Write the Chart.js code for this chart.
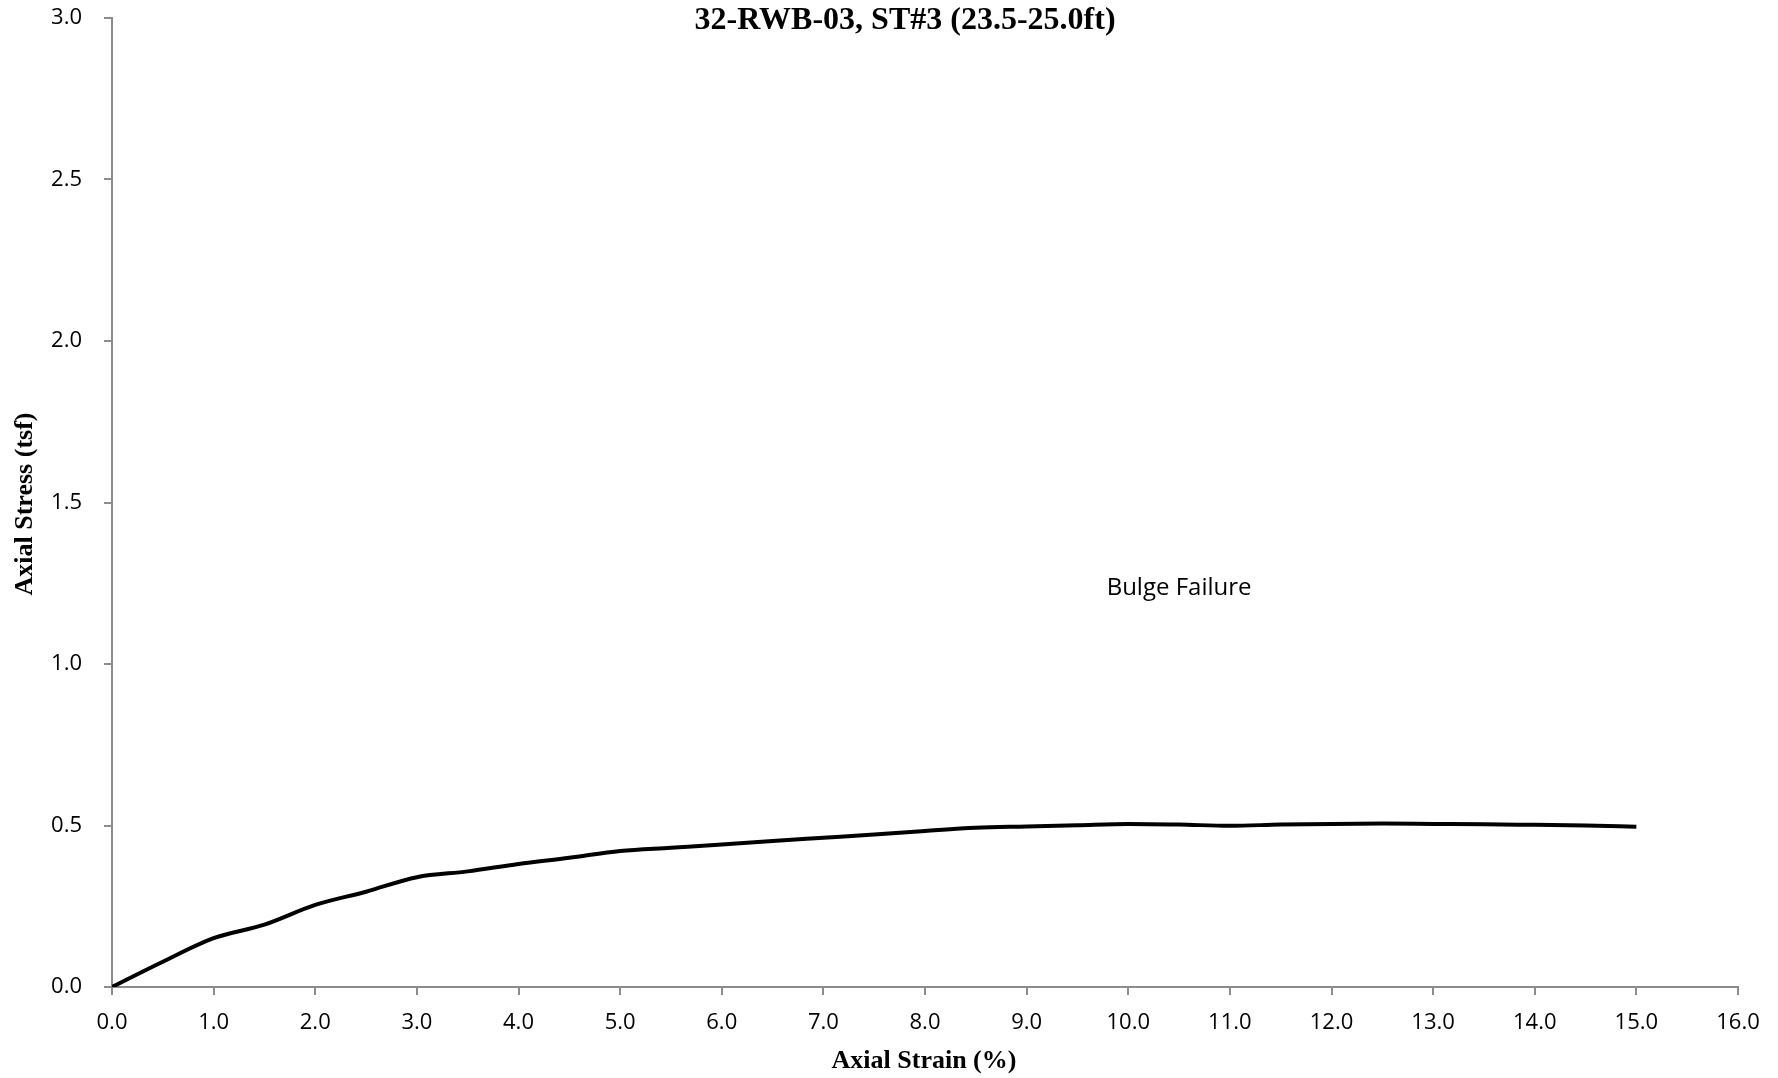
<!DOCTYPE html>
<html>
<head>
<meta charset="utf-8">
<script src="https://cdn.jsdelivr.net/npm/chart.js@4.4.1/dist/chart.umd.min.js"></script>
<style>
  html, body { margin: 0; padding: 0; background: #fff; }
  #wrap { width: 1778px; height: 1078px; }
</style>
</head>
<body>
<div id="wrap"><canvas id="stressChart" width="1778" height="1078"></canvas></div>
<script>
// Axial strain (%) and axial stress (tsf)
const strain = [0, 0.5, 1, 1.5, 2, 2.5, 3, 3.5, 4, 4.5, 5, 5.5, 6, 6.5, 7, 7.5, 8, 8.5, 9, 9.5, 10, 10.5, 11, 11.5, 12, 12.5, 13, 13.5, 14, 14.5, 15];
const stress = [0, 0.078, 0.151, 0.193, 0.254, 0.295, 0.34, 0.358, 0.381, 0.400, 0.421, 0.431, 0.441, 0.452, 0.462, 0.472, 0.483, 0.493, 0.497, 0.501, 0.505, 0.503, 0.499, 0.503, 0.505, 0.506, 0.505, 0.504, 0.502, 0.500, 0.496];

const chartTitle = '32-RWB-03, ST#3 (23.5-25.0ft)';
const xTitle = 'Axial Strain (%)';
const yTitle = 'Axial Stress (tsf)';
const note = 'Bulge Failure';

const axisGray = '#8c8c8c';
const tickFont = { family: '"Open Sans", "Noto Sans", sans-serif', size: 22 };

// Title, axis titles and the note are drawn by hand to sit where Excel put them
const labelsPlugin = {
    id: 'labels',
    afterDraw(chart) {
        const ctx = chart.ctx;
        ctx.save();
        ctx.fillStyle = '#000';
        ctx.textAlign = 'center';
        ctx.textBaseline = 'middle';

        ctx.font = 'bold 32px "Liberation Serif", "Times New Roman", serif';
        ctx.fillText(chartTitle, 905, 21);

        ctx.font = 'bold 26px "Liberation Serif", "Times New Roman", serif';
        ctx.fillText(xTitle, 924, 1061);

        ctx.save();
        ctx.translate(25, 504);
        ctx.rotate(-Math.PI / 2);
        ctx.fillText(yTitle, 0, 0);
        ctx.restore();

        // note anchored in data space
        const nx = chart.scales.x.getPixelForValue(10.5);
        const ny = chart.scales.y.getPixelForValue(1.235);
        ctx.font = '24px "Open Sans", "Noto Sans", sans-serif';
        ctx.fillText(note, nx, ny);
        ctx.restore();
    }
};

const points = strain.map((s, i) => ({ x: s, y: stress[i] }));

new Chart(document.getElementById('stressChart').getContext('2d'), {
    type: 'scatter',
    data: {
        datasets: [{
            data: points,
            showLine: true,
            borderColor: '#000',
            borderWidth: 4,
            pointRadius: 0,
            tension: 0.4,
            cubicInterpolationMode: 'monotone',
            fill: false
        }]
    },
    options: {
        responsive: false,
        animation: false,
        layout: { padding: { left: 0, right: 40, top: 18, bottom: 0 } },
        plugins: {
            legend: { display: false },
            tooltip: { enabled: false }
        },
        scales: {
            x: {
                type: 'linear',
                min: 0,
                max: 16,
                afterFit(scale) { scale.height = 91; },
                border: { display: true, color: axisGray, width: 2 },
                grid: { drawOnChartArea: false, drawTicks: true, tickLength: 8, color: axisGray, lineWidth: 2 },
                ticks: {
                    stepSize: 1,
                    color: '#000',
                    font: tickFont,
                    padding: 15,
                    maxRotation: 0,
                    callback: v => v.toFixed(1)
                }
            },
            y: {
                type: 'linear',
                min: 0,
                max: 3,
                afterFit(scale) {
                    scale.width = 112;
                    scale.paddingTop = 0;
                    scale.paddingBottom = 0;
                },
                border: { display: true, color: axisGray, width: 2 },
                grid: { drawOnChartArea: false, drawTicks: true, tickLength: 8, color: axisGray, lineWidth: 2 },
                ticks: {
                    stepSize: 0.5,
                    color: '#000',
                    font: tickFont,
                    padding: 22,
                    callback: v => v.toFixed(1)
                }
            }
        }
    },
    plugins: [labelsPlugin]
});
</script>
</body>
</html>
